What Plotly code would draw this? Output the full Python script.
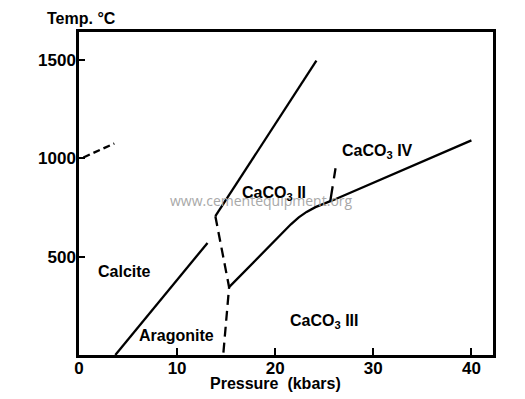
import plotly.graph_objects as go

# Phase boundaries (pressure kbar, temperature °C)
calc_arag_p = [3.7, 13.1]
calc_arag_t = [0, 570]

calc_hi_p = [0.45, 3.6]
calc_hi_t = [1005, 1076]

ii_upper_p = [13.9, 24.2]
ii_upper_t = [706, 1497]

dash_ii_p = [13.9, 15.3, 14.7]
dash_ii_t = [706, 345, 0]

iii_curve_p = [15.3, 21.6, 22.4, 23.2, 24.1, 25.0, 26.0, 40.0]
iii_curve_t = [345, 665, 700, 728, 752, 770, 790, 1092]

iv_dash_p = [25.6, 26.15]
iv_dash_t = [778, 950]

labels_txt = ["Calcite", "Aragonite", "CaCO<sub>3</sub> II", "CaCO<sub>3</sub> IV", "CaCO<sub>3</sub> III"]
labels_p = [4.6, 9.9, 19.9, 30.4, 25.0]
labels_t = [425, 100, 820, 1035, 170]

x_ticks = [0, 10, 20, 30, 40]
y_ticks = [500, 1000, 1500]

FONT = "Liberation Sans, Arial, sans-serif"

# page body has an 8px margin; plot area target in screen px
OFF = 8
FW, FH = 525 - OFF, 399 - OFF
PL, PR, PT, PB = 79, 493, 32, 355
ml, mt = PL - OFF, PT - OFF
mr, mb = FW - (PR - OFF), FH - (PB - OFF)
pw, ph = PR - PL, PB - PT

def px_to_paper(sx, sy):
    return (sx - PL) / pw, (PB - sy) / ph

fig = go.Figure()

def add_line(px, ty, dash="solid"):
    fig.add_trace(go.Scatter(x=px, y=ty, mode="lines",
                             line=dict(color="black", width=2.3, dash=dash),
                             hoverinfo="skip", showlegend=False))

add_line(calc_arag_p, calc_arag_t)
add_line(calc_hi_p, calc_hi_t, "7px,4px")
add_line(ii_upper_p, ii_upper_t)
add_line(dash_ii_p, dash_ii_t, "10px,6px")
add_line(iii_curve_p, iii_curve_t)
add_line(iv_dash_p, iv_dash_t, "16px,8px")

# watermark
wx, wy = px_to_paper(261, 200)
fig.add_annotation(x=wx, y=wy, xref="paper", yref="paper",
                   text="www.cementequipment.org", showarrow=False,
                   font=dict(family="Open Sans, Arial", size=14, color="#a8a8a8"))

for t, p, v in zip(labels_txt, labels_p, labels_t):
    fig.add_annotation(x=p, y=v, text=t, showarrow=False,
                       font=dict(family=FONT, size=16, color="black", weight="bold"))

tx, ty = px_to_paper(45, 19)
fig.add_annotation(x=tx, y=ty, xref="paper", yref="paper", text="Temp. °C",
                   showarrow=False, xanchor="left", yanchor="middle",
                   font=dict(family=FONT, size=16, color="black", weight="bold"))
ax_, ay_ = px_to_paper(275, 383)
fig.add_annotation(x=ax_, y=ay_, xref="paper", yref="paper",
                   text="Pressure  (kbars)", showarrow=False, yanchor="middle",
                   font=dict(family=FONT, size=16, color="black", weight="bold"))

fig.update_layout(
    width=FW, height=FH,
    margin=dict(l=ml, r=mr, t=mt, b=mb, autoexpand=False),
    paper_bgcolor="white", plot_bgcolor="white",
    showlegend=False,
)
fig.update_xaxes(range=[0, 42.2], tickvals=x_ticks, ticktext=[str(v) for v in x_ticks],
                 ticks="inside", ticklen=7, tickwidth=2, tickcolor="black",
                 showline=True, linewidth=2.5, linecolor="black", mirror=True,
                 showgrid=False, zeroline=False, ticklabelstandoff=-4,
                 tickfont=dict(family=FONT, size=17, color="black", weight="bold"))
fig.update_yaxes(range=[0, 1643], tickvals=y_ticks, ticktext=[str(v) for v in y_ticks],
                 ticks="inside", ticklen=6, tickwidth=2, tickcolor="black",
                 showline=True, linewidth=2.5, linecolor="black", mirror=True,
                 showgrid=False, zeroline=False, ticklabelstandoff=-3,
                 tickfont=dict(family=FONT, size=17, color="black", weight="bold"))

fig.write_html("out.html")
